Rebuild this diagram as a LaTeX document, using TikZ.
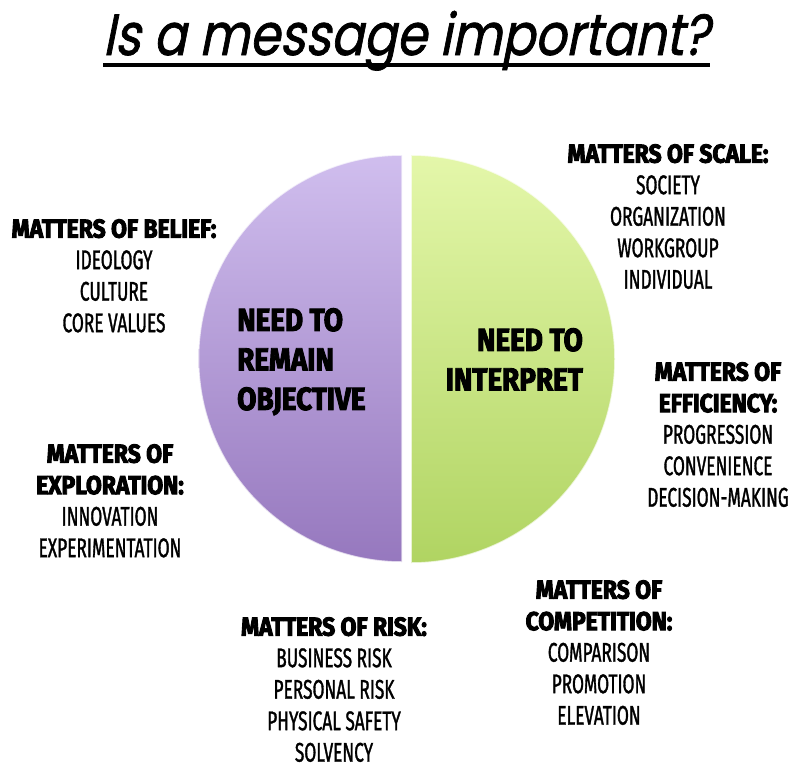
\documentclass[tikz,border=0pt]{standalone}
\usepackage{fontspec}
\newfontfamily\hdf{Fira Sans}[FakeStretch=0.88,BoldFeatures={FakeBold=3.5}]
\newfontfamily\pief{Fira Sans}[FakeStretch=0.87,BoldFeatures={FakeBold=3}]
\newfontfamily\itf{Fira Sans}[FakeStretch=0.64,FakeBold=1.2]
\newfontfamily\ttlf{Poppins}[FakeSlant=0.2,FakeStretch=0.84,FakeBold=1.2]
\definecolor{purpT}{RGB}{208,190,238}
\definecolor{purpB}{RGB}{150,120,190}
\definecolor{greenT}{RGB}{228,247,170}
\definecolor{greenB}{RGB}{176,212,98}
\newcommand\hdtxt[1]{{\hdf\bfseries\fontsize{26}{32}\selectfont #1}}
\begin{document}
\begin{tikzpicture}[x=1pt,y=1pt,
  blk/.style={inner sep=0pt, align=center, anchor=north, font=\itf\fontsize{27}{31.5}\selectfont},
  pietxt/.style={inner sep=0pt, font=\pief\bfseries\fontsize{32}{39.5}\selectfont},
  rim/.style={draw=white, draw opacity=0.7, line width=1.5pt}]
\useasboundingbox (0,0) rectangle (794,-771);
% title
\node[inner sep=0pt, anchor=base, font=\ttlf\fontsize{58}{60}\selectfont] (title) at (406,-55) {Is a message important?};
\fill (103,-63) rectangle (710,-67);
% pie halves
\path[top color=purpT, bottom color=purpB, rim] (402,-155) arc[start angle=90, end angle=270, radius=203.5] -- cycle;
\path[top color=greenT, bottom color=greenB, rim] (411,-155) arc[start angle=90, end angle=-90, radius=204] -- cycle;
\node[pietxt, anchor=north west, align=left] (obj) at (237,-308) {NEED TO\\REMAIN\\OBJECTIVE};
\node[pietxt, anchor=north east, align=right] (interp) at (583,-328) {NEED TO\\INTERPRET};
% text blocks
\node[blk] (belief) at (114,-219) {\hdtxt{MATTERS OF BELIEF:}\\IDEOLOGY\\CULTURE\\CORE VALUES};
\node[blk] (scale) at (668,-144) {\hdtxt{MATTERS OF SCALE:}\\SOCIETY\\ORGANIZATION\\WORKGROUP\\INDIVIDUAL};
\node[blk] (explor) at (110,-444) {\hdtxt{MATTERS OF}\\\hdtxt{EXPLORATION:}\\INNOVATION\\EXPERIMENTATION};
\node[blk] (effic) at (718,-362) {\hdtxt{MATTERS OF}\\\hdtxt{EFFICIENCY:}\\PROGRESSION\\CONVENIENCE\\DECISION-MAKING};
\node[blk] (risk) at (334,-617) {\hdtxt{MATTERS OF RISK:}\\BUSINESS RISK\\PERSONAL RISK\\PHYSICAL SAFETY\\SOLVENCY};
\node[blk] (compet) at (599,-580) {\hdtxt{MATTERS OF}\\\hdtxt{COMPETITION:}\\COMPARISON\\PROMOTION\\ELEVATION};
\end{tikzpicture}
\end{document}
